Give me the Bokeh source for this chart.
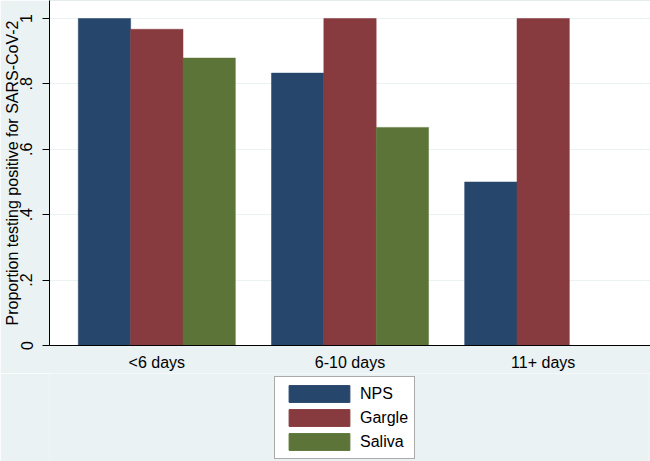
from bokeh.plotting import figure
from bokeh.layouts import column
from bokeh.models import ColumnDataSource, FactorRange, Range1d, FixedTicker, Legend, LegendItem
from bokeh.transform import dodge
from bokeh.embed import file_html
from bokeh.resources import INLINE

categories = ["<6 days", "6-10 days", "11+ days"]
nps = [1.0, 0.833, 0.5]
gargle = [0.967, 1.0, 1.0]
saliva = [0.879, 0.667, 0.0]
series_names = ["NPS", "Gargle", "Saliva"]
colors = ["#27466B", "#873B3E", "#5C7438"]
y_ticks = [0, 0.2, 0.4, 0.6, 0.8, 1.0]
y_tick_labels = ["0", ".2", ".4", ".6", ".8", "1"]

src = ColumnDataSource(dict(cat=categories, NPS=nps, Gargle=gargle, Saliva=saliva))

FONT = "Liberation Sans"
BG = "#EAF2F3"

p = figure(frame_width=601, frame_height=345, output_backend="svg", toolbar_location=None,
           x_range=FactorRange(factors=categories, range_padding=0.037, range_padding_units="percent"),
           y_range=Range1d(0, 1.055),
           min_border_left=47, min_border_right=2, min_border_top=0, min_border_bottom=27)
p.background_fill_color = "white"
p.border_fill_color = BG
p.outline_line_color = "#E4ECEE"

w = 0.271
offsets = [-w, 0.0, w]
for name, off, col in zip(series_names, offsets, colors):
    p.vbar(x=dodge("cat", off, range=p.x_range), top=name, width=w, source=src,
           fill_color=col, line_color=col, line_width=0.5)

p.xgrid.visible = False
p.ygrid.grid_line_color = BG
p.ygrid.grid_line_width = 1
p.ygrid.ticker = FixedTicker(ticks=y_ticks)

p.yaxis.ticker = FixedTicker(ticks=y_ticks)
p.yaxis.major_label_overrides = {t: l for t, l in zip(y_ticks, y_tick_labels)}
p.yaxis.major_label_orientation = "vertical"
p.yaxis.axis_label = "Proportion testing positive for SARS-CoV-2"
p.yaxis.axis_label_text_font = FONT
p.yaxis.axis_label_text_font_size = "16px"
p.yaxis.axis_label_text_font_style = "normal"
p.yaxis.axis_label_text_color = "black"
p.yaxis.axis_label_standoff = -3
p.yaxis.major_label_text_font = FONT
p.yaxis.major_label_text_font_size = "16px"
p.yaxis.major_label_text_color = "black"
p.yaxis.major_label_standoff = 10
p.yaxis.major_tick_out = 7
p.yaxis.major_tick_in = 0
p.yaxis.minor_tick_out = 0
p.yaxis.minor_tick_in = 0
p.yaxis.axis_line_color = "black"
p.yaxis.major_tick_line_color = "black"

p.xaxis.major_label_text_font = FONT
p.xaxis.major_label_text_font_size = "16px"
p.xaxis.major_label_text_color = "black"
p.xaxis.major_label_standoff = 2
p.xaxis.major_tick_line_color = None
p.xaxis.axis_line_color = "black"

# legend panel below the chart (bars kept out of view; only legend swatches show)
lf = figure(width=650, height=89, output_backend="svg", toolbar_location=None,
            x_range=FactorRange(factors=categories), y_range=Range1d(5, 6),
            x_axis_location=None, y_axis_location=None,
            min_border_left=0, min_border_right=0, min_border_top=0, min_border_bottom=0)
lf.grid.visible = False
lf.outline_line_color = None
lf.background_fill_color = BG
lf.border_fill_color = BG
items = []
for name, off, col in zip(series_names, offsets, colors):
    r = lf.vbar(x=dodge("cat", off, range=lf.x_range), top=name, width=w, source=src,
                fill_color=col, line_color=col)
    items.append(LegendItem(label=name, renderers=[r]))

legend = Legend(items=items, location=(225, 3), orientation="vertical")
legend.label_text_font = FONT
legend.label_text_font_size = "16px"
legend.label_text_color = "black"
legend.glyph_width = 76
legend.glyph_height = 21
legend.label_height = 21
legend.spacing = 3
legend.padding = 6
legend.margin = 0
legend.label_standoff = 3
legend.border_line_color = "#555555"
legend.border_line_width = 1.5
legend.background_fill_color = "white"
legend.background_fill_alpha = 1.0
lf.add_layout(legend, "center")

layout = column(p, lf, spacing=0)
open("out.html", "w").write(file_html(layout, INLINE))
